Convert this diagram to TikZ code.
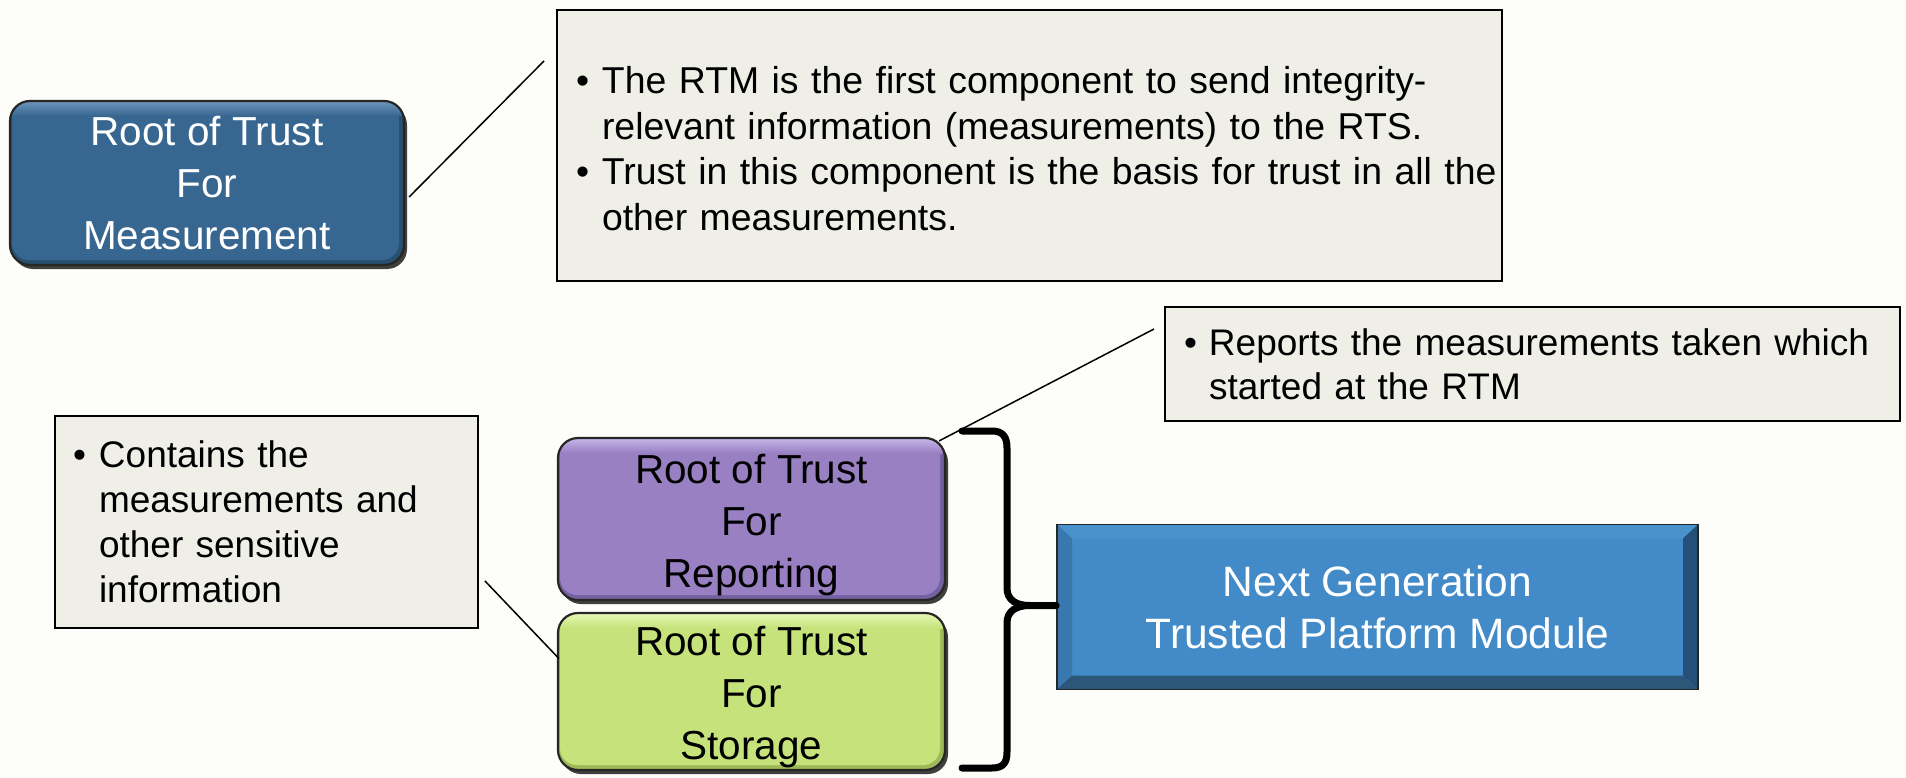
\documentclass[tikz,border=0pt]{standalone}
\usepackage{fontspec}
\setmainfont{Liberation Sans}
\usetikzlibrary{shadows,calc}

\definecolor{pagebg}{HTML}{FDFDF9}
\definecolor{rtmbase}{HTML}{376690}
\definecolor{rtmdark}{HTML}{28506F}
\definecolor{rtmlight}{HTML}{6A93B8}
\definecolor{rtrbase}{HTML}{9880C2}
\definecolor{rtrdark}{HTML}{7461A0}
\definecolor{rtrlight}{HTML}{C4B3E6}
\definecolor{rtsbase}{HTML}{C5E37A}
\definecolor{rtsdark}{HTML}{9DBA58}
\definecolor{rtslight}{HTML}{E6F6B4}
\definecolor{notefill}{HTML}{EFEFE8}
\definecolor{tpmface}{HTML}{428BC8}
\definecolor{tpmtop}{HTML}{4A92CC}
\definecolor{tpmleft}{HTML}{3878AE}
\definecolor{tpmright}{HTML}{24507A}
\definecolor{tpmbottom}{HTML}{2D5778}

\tikzset{
  x=1pt, y=-1pt,
  glossy/.style n args={3}{
    rectangle, rounded corners=20pt, draw=black!85, line width=2.2pt,
    fill=#1, inner sep=0pt, align=center,
    font=\fontsize{40.5}{52}\selectfont,
    drop shadow={shadow xshift=3pt, shadow yshift=-4pt, opacity=0.75, fill=black},
    path picture={
      \fill[#2, sharp corners] (path picture bounding box.south west)
        rectangle (path picture bounding box.north east);
      \fill[#1, rounded corners=17pt]
        ([shift={(2pt,-2pt)}]path picture bounding box.north west)
        rectangle ([shift={(-5pt,5pt)}]path picture bounding box.south east);
      \shade[top color=#3, bottom color=#1, sharp corners]
        ([shift={(0pt,-1pt)}]path picture bounding box.north west)
        rectangle ([shift={(0pt,-15pt)}]path picture bounding box.north east);
    }},
  note/.style={
    rectangle, draw=black, line width=2pt, fill=notefill, align=left,
    inner ysep=0pt, font=\fontsize{37}{44}\selectfont},
  leader/.style={draw=black, line width=1.5pt},
  bracket/.style={draw=black, line width=7pt, line cap=round, line join=round},
  tpmbox/.style={
    rectangle, minimum width=641pt, minimum height=165pt, inner sep=0pt,
    fill=tpmface, draw=black!85, line width=1.6pt, text=white, align=center,
    font=\fontsize{42.5}{52}\selectfont,
    path picture={
      \coordinate (pnw) at (path picture bounding box.north west);
      \coordinate (pne) at (path picture bounding box.north east);
      \coordinate (psw) at (path picture bounding box.south west);
      \coordinate (pse) at (path picture bounding box.south east);
      \fill[tpmtop] (pnw) -- (pne) -- ([shift={(-15pt,-14pt)}]pne) -- ([shift={(15pt,-14pt)}]pnw) -- cycle;
      \fill[tpmleft] (pnw) -- ([shift={(15pt,-14pt)}]pnw) -- ([shift={(15pt,14pt)}]psw) -- (psw) -- cycle;
      \fill[tpmright] (pne) -- ([shift={(-15pt,-14pt)}]pne) -- ([shift={(-15pt,14pt)}]pse) -- (pse) -- cycle;
      \fill[tpmbottom] (psw) -- ([shift={(15pt,14pt)}]psw) -- ([shift={(-15pt,14pt)}]pse) -- (pse) -- cycle;
    }},
}

\newcommand{\bul}[1]{\makebox[#1][l]{•}}
\newcommand{\tallstrut}{\rule{0pt}{41pt}}

\begin{document}
\begin{tikzpicture}
  \fill[pagebg] (0,0) rectangle (1906,778);
  \useasboundingbox (0,0) rectangle (1906,778);

  % the three roots of trust
  \node[glossy={rtmbase}{rtmdark}{rtmlight}, text=white,
        minimum width=394pt, minimum height=164pt] (rtm) at (207,183)
        {Root of Trust\\For\\Measurement};
  \node[glossy={rtrbase}{rtrdark}{rtrlight},
        minimum width=387pt, minimum height=162pt] (rtr) at (751.5,519)
        {\tallstrut Root of Trust\\For\\Reporting};
  \node[glossy={rtsbase}{rtsdark}{rtslight},
        minimum width=387pt, minimum height=157pt] (rts) at (751.5,691.5)
        {\tallstrut Root of Trust\\For\\Storage};

  % the module they make up
  \node[tpmbox] (tpm) at (1377.5,607) {Next Generation\\Trusted Platform Module};

  % explanatory notes
  \node[note, font=\fontsize{37.4}{45.5}\selectfont, minimum width=945pt,
        minimum height=271pt, inner xsep=19pt, text width=907pt] (rtmnote) at (1029.5,145.5)
    {\mbox{\rule{0pt}{33pt}\bul{26pt}The RTM is the first component to send integrity-}\\
     \mbox{\hspace*{26pt}relevant information (measurements) to the RTS.}\\
     \mbox{\bul{26pt}Trust in this component is the basis for trust in all the}\\
     \mbox{\hspace*{26pt}other measurements.}};
  \node[note, minimum width=735pt, minimum height=114pt, inner xsep=19pt,
        text width=697pt] (rtrnote) at (1532.5,364)
    {\mbox{\bul{25pt}Reports the measurements taken which}\\
     \mbox{\hspace*{25pt}started at the RTM}};
  \node[note, font=\fontsize{37}{45}\selectfont, minimum width=423pt,
        minimum height=212pt, inner xsep=18pt, text width=387pt] (rtsnote) at (266.5,522)
    {\mbox{\bul{26pt}Contains the}\\
     \mbox{\hspace*{26pt}measurements and}\\
     \mbox{\hspace*{26pt}other sensitive}\\
     \mbox{\hspace*{26pt}information}};

  % leader lines from the notes
  \coordinate (m1) at ($(rtm.east)+(4,14)$);
  \coordinate (m2) at ($(rtmnote.north west)+(-12,52)$);
  \draw[leader] (m1) -- (m2);
  \coordinate (r1) at ($(rtr.north east)+(-7,4)$);
  \coordinate (r2) at ($(rtrnote.west)+(-10,-35)$);
  \draw[leader] (r1) -- (r2);
  \coordinate (s1) at ($(rtsnote.south east)+(6,-48)$);
  \coordinate (s2) at ($(rts.west)+(2,-33)$);
  \draw[leader] (s1) -- (s2);

  % brace gathering the two roots into the module
  \coordinate (bt) at (962,431);
  \coordinate (bb) at (962,768);
  \coordinate (bm) at (1030,605.5);
  \draw[bracket] (bt) -- (992,431) .. controls (1003,431) and (1007,437) .. (1007,448)
    -- (1007,588) .. controls (1007,600) and (1016,605.5) .. (bm) -- (tpm.west |- bm);
  \draw[bracket] (bm) .. controls (1016,605.5) and (1007,611) .. (1007,623)
    -- (1007,752) .. controls (1007,763) and (1003,768) .. (992,768) -- (bb);
\end{tikzpicture}
\end{document}
